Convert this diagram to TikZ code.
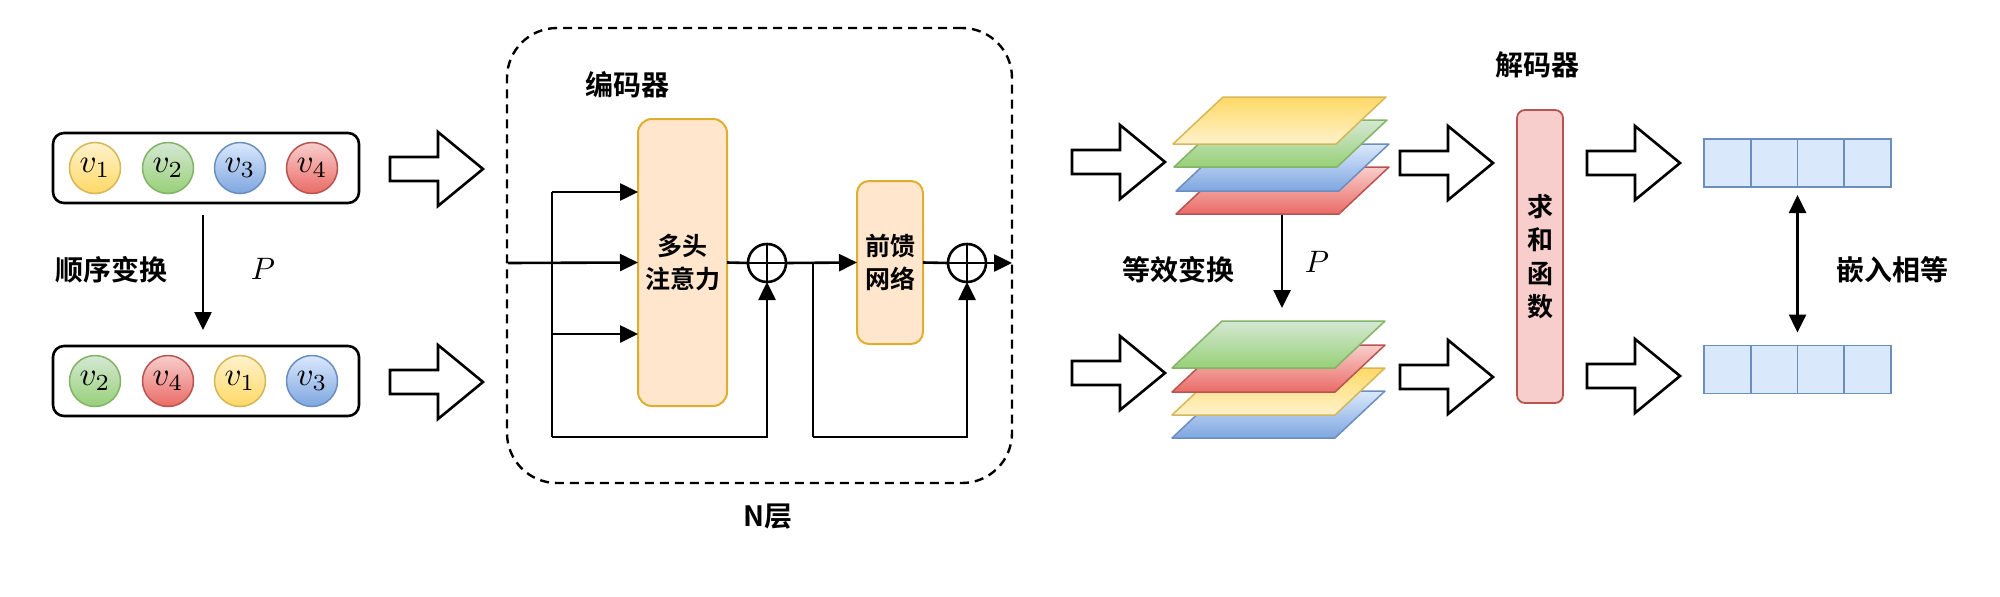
\documentclass[tikz,border=0pt]{standalone}
\usepackage{graphicx}
\usepackage{fontspec}
\newfontfamily\cjk{Noto Sans CJK SC}[BoldFont={Noto Sans CJK SC Bold}]
\usetikzlibrary{arrows.meta}
\definecolor{yS}{HTML}{D6B656}\definecolor{yL}{HTML}{FFF2CC}\definecolor{yD}{HTML}{FFD966}
\definecolor{gS}{HTML}{82B366}\definecolor{gL}{HTML}{D5E8D4}\definecolor{gD}{HTML}{97D077}
\definecolor{bS}{HTML}{6C8EBF}\definecolor{bL}{HTML}{DAE8FC}\definecolor{bD}{HTML}{7EA6E0}
\definecolor{rS}{HTML}{B85450}\definecolor{rL}{HTML}{F8CECC}\definecolor{rD}{HTML}{EA6B66}
\definecolor{oF}{HTML}{FFE6CC}\definecolor{oS}{HTML}{E0AE2E}
\newcommand\drawlayer[5]{\path[draw=#3,line width=1.5pt,top color=#4,bottom color=#5,line join=round] (#1,#2) -- ++(50,-47) -- ++(163,0) -- ++(-50,47) -- cycle;}
\newcommand\bigmath[2]{\scalebox{#1}{$#2$}}
\tikzset{barrow/.pic={\draw[line width=2.6pt,fill=white,line join=miter] (0,-12) -- (48,-12) -- (48,-37) -- (93,0) -- (48,37) -- (48,12) -- (0,12) -- cycle;}}
\begin{document}
\begin{tikzpicture}[x=1pt,y=-1pt,
  lw/.style={line width=2.6pt},
  arr/.style={line width=2.6pt,-{Triangle[length=18pt,width=17pt]}},
  darr/.style={line width=2.6pt,{Triangle[length=18pt,width=17pt]}-{Triangle[length=18pt,width=17pt]}},
  seqbox/.style={draw,line width=2.6pt,rounded corners=11pt,minimum width=306pt,minimum height=70pt,outer sep=0pt},
  vnode/.style={circle,minimum size=51pt,inner sep=0pt,line width=1.5pt},
  cy/.style={vnode,draw=yS,top color=yL,bottom color=yD},
  cg/.style={vnode,draw=gS,top color=gL,bottom color=gD},
  cb/.style={vnode,draw=bS,top color=bL,bottom color=bD},
  cr/.style={vnode,draw=rS,top color=rL,bottom color=rD},
  lbl/.style={font=\cjk\bfseries\fontsize{28}{33}\selectfont},
  obox/.style={draw=oS,fill=oF,line width=2pt,rounded corners=14pt,align=center,outer sep=0pt,font=\cjk\bfseries\fontsize{25}{33}\selectfont},
  oplus/.style={circle,draw,line width=2.6pt,minimum size=38pt,inner sep=0pt,outer sep=0pt},
  cell/.style={draw=bS,fill=bL,line width=1.8pt,minimum width=46.75pt,minimum height=48pt,inner sep=0pt,outer sep=0pt}
]
\useasboundingbox (0,0) rectangle (2000,597);
% sequences
\node[seqbox] (seqA) at (206,168) {};
\node[seqbox] (seqB) at (206,381) {};
\node[cy] (a1) at (95,168) {\bigmath{3.3}{v_1}};
\node[cg] (a2) at (168,168) {\bigmath{3.3}{v_2}};
\node[cb] (a3) at (240,168) {\bigmath{3.3}{v_3}};
\node[cr] (a4) at (312,168) {\bigmath{3.3}{v_4}};
\node[cg] (b1) at (95,381) {\bigmath{3.3}{v_2}};
\node[cr] (b2) at (168,381) {\bigmath{3.3}{v_4}};
\node[cy] (b3) at (240,381) {\bigmath{3.3}{v_1}};
\node[cb] (b4) at (312,381) {\bigmath{3.3}{v_3}};
\coordinate (pA) at (203,215);
\coordinate (pB) at (203,330);
\draw[arr] (pA) -- (pB);
\node[lbl] (tSeq) at (111,270) {顺序变换};
\node (P1) at (263,269) {\bigmath{3.1}{P}};
% block arrows
\pic at (390,169) {barrow};
\pic at (390,382) {barrow};
\pic at (1072,162) {barrow};
\pic at (1072,373) {barrow};
\pic at (1400,163) {barrow};
\pic at (1400,377) {barrow};
\pic at (1587,163) {barrow};
\pic at (1587,376) {barrow};
% encoder
\node[draw,line width=2.4pt,dash pattern=on 9pt off 6pt,rounded corners=50pt,minimum width=505pt,minimum height=455pt] (enc) at (759.5,255.5) {};
\node[lbl] (tEnc) at (627,85) {编码器};
\node[lbl] (tN) at (768,517) {N层};
\node[obox,minimum width=89pt,minimum height=287pt] (mha) at (682.5,262.5) {多头\\注意力};
\node[obox,minimum width=66pt,minimum height=163pt,rounded corners=12pt] (ff) at (890,262.5) {前馈\\网络};
\node[oplus] (c1) at (767,263) {};
\node[oplus] (c2) at (967,263) {};
\draw[lw] (c1.north) -- (c1.south) (c1.west) -- (c1.east);
\draw[lw] (c2.north) -- (c2.south) (c2.west) -- (c2.east);
\coordinate (in) at (508,263);
\coordinate (bt) at (552,192);
\coordinate (bb) at (552,334);
\coordinate (bl) at (552,437);
\draw[arr] (in) -- (mha.west);
\draw[arr] (bt) -- (bt -| mha.west);
\draw[arr] (bb) -- (bb -| mha.west);
\draw[lw] (bt) -- (bl);
\draw[arr] (bl) -| (c1.south);
\draw[lw] (mha.east) -- (c1.west);
\draw[arr] (c1.east) -- (ff.west);
\coordinate (br2) at (813,263);
\coordinate (br2b) at (813,437);
\draw[lw] (br2) -- (br2b);
\draw[arr] (br2b) -| (c2.south);
\draw[lw] (ff.east) -- (c2.west);
\coordinate (out) at (1012,263);
\draw[arr] (c2.east) -- (out);
% stacks
\drawlayer{1176}{214}{rS}{rL}{rD}
\drawlayer{1176}{191}{bS}{bL}{bD}
\drawlayer{1174}{167}{gS}{gL}{gD}
\drawlayer{1173}{144}{yS}{yD}{yL}
\drawlayer{1172}{438}{bS}{bL}{bD}
\drawlayer{1172}{415}{yS}{yD}{yL}
\drawlayer{1172}{392}{rS}{rL}{rD}
\drawlayer{1172}{368}{gS}{gL}{gD}
\coordinate (sA) at (1282,215);
\coordinate (sB) at (1282,308);
\draw[arr] (sA) -- (sB);
\node[lbl] (tEq) at (1178,270) {等效变换};
\node (P2) at (1317,262) {\bigmath{3.1}{P}};
% decoder
\node[lbl] (tDec) at (1537,65) {解码器};
\node[draw=rS,fill=rL,line width=1.8pt,rounded corners=8pt,minimum width=46pt,minimum height=293pt,align=center,font=\cjk\bfseries\fontsize{26}{33.5}\selectfont] (sum) at (1540,256.5) {求\\和\\函\\数};
% embeddings
\foreach \i in {0,...,3} {
  \node[cell] (vA\i) at (1704+23.375+46.75*\i,163) {};
  \node[cell] (vB\i) at (1704+23.375+46.75*\i,369.5) {};
}
\draw[darr] ([yshift=-8pt]vA1.south east) -- ([yshift=13pt]vB1.north east);
\node[lbl] (tEmb) at (1892,270) {嵌入相等};
\end{tikzpicture}
\end{document}
